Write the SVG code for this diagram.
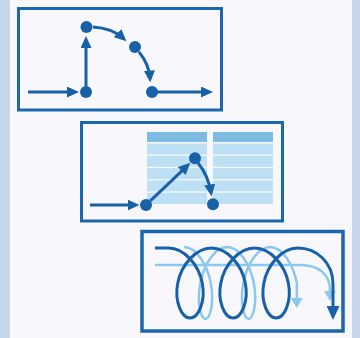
<svg xmlns="http://www.w3.org/2000/svg" width="360" height="338" viewBox="0 0 360 338">
<style>
.frame{fill:none;stroke:#1b66ad;stroke-width:3}
.dot{fill:#1761a8}
.ln{fill:none;stroke:#1761a8;stroke-width:3;marker-end:url(#ah)}
.hdr{fill:#7dbbe2}
.row{fill:#bde0f4}
.dk{fill:none;stroke:#1761a8;stroke-width:3}
.lt{fill:none;stroke:#8cc8ec;stroke-width:2.5}
</style>
<defs>
<marker id="ah" viewBox="0 0 12 11" markerWidth="12" markerHeight="11" refX="8" refY="5.5" orient="auto" markerUnits="userSpaceOnUse">
<path d="M0,0 L12,5.5 L0,11 z" fill="#1761a8"/>
</marker>
<marker id="ahBig" viewBox="0 0 14 13" markerWidth="14" markerHeight="13" refX="10" refY="6.5" orient="auto" markerUnits="userSpaceOnUse">
<path d="M0,0 L14,6.5 L0,13 z" fill="#1761a8"/>
</marker>
<marker id="ahLt" viewBox="0 0 10 12" markerWidth="10" markerHeight="12" refX="6" refY="6" orient="auto" markerUnits="userSpaceOnUse">
<path d="M0,0 L10,6 L0,12 z" fill="#8cc8ec"/>
</marker>
</defs>
<rect x="0" y="0" width="360" height="338" fill="#f8f8fc"/>
<rect x="0" y="0" width="10" height="338" fill="#c8d6ec"/>
<rect x="352" y="0" width="8" height="338" fill="#c8d6ec"/>

<g id="panel-flow">
<rect class="frame" x="18.5" y="8.5" width="203" height="101.5"/>
<g id="connectors-flow">
<path class="ln" d="M28,92 H75"/>
<path class="ln" d="M86,92 V40"/>
<path class="ln" d="M93,27 Q112,28 123.5,38.5"/>
<path class="ln" d="M139,52 Q149,64 150,78.5"/>
<path class="ln" d="M152,92 H209"/>
</g>
<g id="f-n1"><circle class="dot" cx="86" cy="92" r="6"/></g>
<g id="f-n2"><circle class="dot" cx="86.5" cy="27" r="6"/></g>
<g id="f-n3"><circle class="dot" cx="135" cy="47" r="6"/></g>
<g id="f-n4"><circle class="dot" cx="152" cy="92" r="6"/></g>
</g>

<g id="panel-table">
<rect class="frame" x="81.5" y="122.5" width="201" height="98.5"/>
<g id="table">
<rect class="hdr" x="147" y="132" width="60" height="10"/>
<rect class="hdr" x="213" y="132" width="60" height="10"/>
<rect class="row" x="147" y="143.5" width="60" height="11"/>
<rect class="row" x="213" y="143.5" width="60" height="11"/>
<rect class="row" x="147" y="155.8" width="60" height="11"/>
<rect class="row" x="213" y="155.8" width="60" height="11"/>
<rect class="row" x="147" y="168.1" width="60" height="11"/>
<rect class="row" x="213" y="168.1" width="60" height="11"/>
<rect class="row" x="147" y="180.4" width="60" height="11"/>
<rect class="row" x="213" y="180.4" width="60" height="11"/>
<rect class="row" x="147" y="192.7" width="60" height="11.3"/>
<rect class="row" x="213" y="192.7" width="60" height="11.3"/>
</g>
<g id="connectors-table">
<path class="ln" d="M90,205 H135.5"/>
<path class="ln" d="M150.3,200.8 L187.5,165.6"/>
<path class="ln" d="M198,163 Q208,175 211,192.5"/>
</g>
<g id="t-n1"><circle class="dot" cx="146" cy="205" r="6"/></g>
<g id="t-n2"><circle class="dot" cx="195" cy="158.3" r="6"/></g>
<g id="t-n3"><circle class="dot" cx="213" cy="204.3" r="6"/></g>
</g>

<g id="panel-spiral">
<rect class="frame" x="142" y="231.5" width="201" height="99.5" style="stroke-width:3.5"/>
<g id="connectors-spiral">
<path class="lt" style="marker-end:url(#ahLt)" d="M155,265 H300 C318,265 330,274 330,290 V297"/>
<path class="lt" style="marker-end:url(#ahLt)" d="M184,247
C195.96,247 207.17,264.15 210.76,283 C214.35,301.85 210.31,319 205.52,319 C200.73,319 196.69,301.85 200.28,283 C203.87,264.15 215.08,247 227.04,247
C239,247 250.21,264.15 253.8,283 C257.39,301.85 253.35,319 248.56,319 C243.77,319 239.730,301.85 243.32,283 C246.91,264.15 258.12,247 270.08,247
C282.04,247 293.25,264.15 296.84,283 V304"/>
<path class="dk" style="marker-end:url(#ahBig)" d="M155,248 H168.5
C184.13,248 198.67,264.67 202.26,283 C205.85,301.33 198.48,318 190.02,318 C181.56,318 174.19,301.33 177.78,283 C181.37,264.67 195.91,248 211.54,248
C227.17,248 241.71,264.67 245.3,283 C248.89,301.33 241.52,318 233.06,318 C224.6,318 217.23,301.33 220.82,283 C224.41,264.67 238.95,248 254.58,248
C270.21,248 284.75,264.67 288.34,283 C291.93,301.33 284.56,318 276.1,318 C267.64,318 260.27,301.33 263.86,283 C267.45,264.67 281.99,248 297.62,248
C316,248 333,262 333,284 V316"/>
</g>
</g>
</svg>
